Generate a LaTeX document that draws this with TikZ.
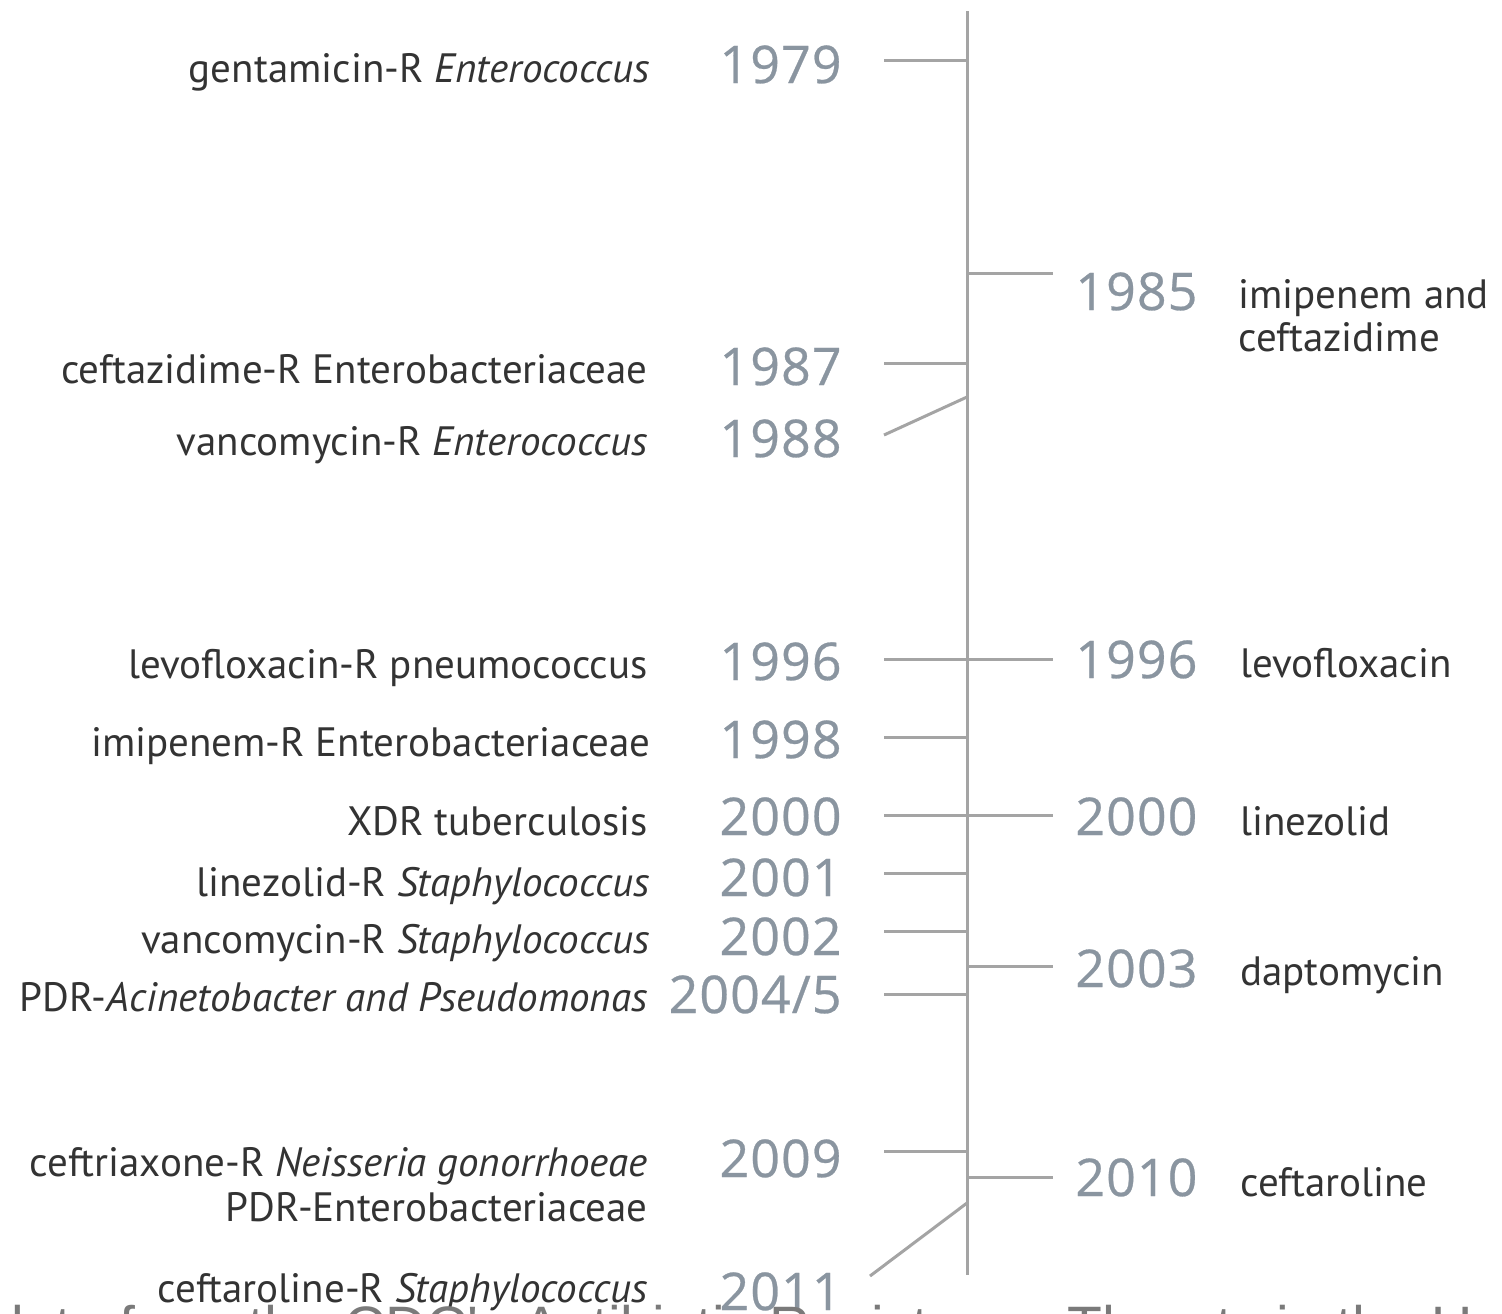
\documentclass[tikz,border=0pt]{standalone}
\usepackage{fontspec}
\newfontfamily\labfont{PT Sans}
\newfontfamily\yrfont[FakeBold=0.5,LetterSpace=2]{Open Sans}
\newfontfamily\capfont{Liberation Sans}
\definecolor{yrcol}{HTML}{8A95A0}
\definecolor{labcol}{HTML}{333333}
\definecolor{lncol}{HTML}{A4A4A4}
\definecolor{capcol}{HTML}{7A7A7A}
\begin{document}
\begin{tikzpicture}[x=0.5pt,y=-0.5pt,
  year/.style={font=\yrfont\fontsize{26}{30}\selectfont, text=yrcol, inner sep=0pt},
  lbl/.style={font=\labfont\fontsize{20.5}{21.5}\selectfont, text=labcol, inner sep=0pt},
  tickline/.style={draw=lncol, line width=1.5pt}]
\useasboundingbox (0,0) rectangle (1502,1313);
\fill[white] (0,0) rectangle (1502,1313);

% axis
\coordinate (top) at (967,11);
\coordinate (bot) at (967,1275);
\draw[tickline] (top) -- (bot);

% ---------- left side ----------
\node[year, anchor=base east] (y1979) at (842,83) {1979};
\node[lbl, anchor=base east] (l1979) at (650,82) {gentamicin-R \textit{Enterococcus}};
\coordinate (e1979) at (884,60); \coordinate (a1979) at (967,60);
\draw[tickline] (e1979) -- (a1979);

\node[year, anchor=base east] (y1987) at (842,385) {1987};
\node[lbl, anchor=base east] (l1987) at (648,383) {ceftazidime-R Enterobacteriaceae};
\coordinate (e1987) at (884,363); \coordinate (a1987) at (967,363);
\draw[tickline] (e1987) -- (a1987);

\node[year, anchor=base east] (y1988) at (842,457) {1988};
\node[lbl, anchor=base east] (l1988) at (648,455) {vancomycin-R \textit{Enterococcus}};
\coordinate (e1988) at (884,435); \coordinate (a1988) at (967,397);
\draw[tickline] (e1988) -- (a1988);

\node[year, anchor=base east] (y1996l) at (842,680) {1996};
\node[lbl, anchor=base east] (l1996l) at (648,678) {levofloxacin-R pneumococcus};
\coordinate (e1996l) at (884,659); \coordinate (a1996) at (967,659);
\draw[tickline] (e1996l) -- (a1996);

\node[year, anchor=base east] (y1998) at (842,758) {1998};
\node[lbl, anchor=base east] (l1998) at (651,756) {imipenem-R Enterobacteriaceae};
\coordinate (e1998) at (884,737); \coordinate (a1998) at (967,737);
\draw[tickline] (e1998) -- (a1998);

\node[year, anchor=base east] (y2000l) at (842,835) {2000};
\node[lbl, anchor=base east] (l2000l) at (648,835) {XDR tuberculosis};
\coordinate (e2000l) at (884,815); \coordinate (a2000) at (967,815);
\draw[tickline] (e2000l) -- (a2000);

\node[year, anchor=base east] (y2001) at (842,896) {2001};
\node[lbl, anchor=base east] (l2001) at (650,896) {linezolid-R \textit{Staphylococcus}};
\coordinate (e2001) at (884,873); \coordinate (a2001) at (967,873);
\draw[tickline] (e2001) -- (a2001);

\node[year, anchor=base east] (y2002) at (842,955) {2002};
\node[lbl, anchor=base east] (l2002) at (650,953) {vancomycin-R \textit{Staphylococcus}};
\coordinate (e2002) at (884,931); \coordinate (a2002) at (967,931);
\draw[tickline] (e2002) -- (a2002);

\node[year, anchor=base east] (y2004) at (842,1013) {2004/5};
\node[lbl, anchor=base east] (l2004) at (648,1011) {PDR-\textit{Acinetobacter and Pseudomonas}};
\coordinate (e2004) at (884,994); \coordinate (a2004) at (967,994);
\draw[tickline] (e2004) -- (a2004);

\node[year, anchor=base east] (y2009) at (842,1177) {2009};
\node[lbl, anchor=north east, align=right] (l2009) at (648,1147) {ceftriaxone-R \textit{Neisseria gonorrhoeae}\\[1pt]PDR-Enterobacteriaceae};
\coordinate (e2009) at (884,1151); \coordinate (a2009) at (967,1151);
\draw[tickline] (e2009) -- (a2009);

\node[year, anchor=base east] (y2011) at (842,1310) {2011};
\node[lbl, anchor=base east] (l2011) at (648,1302) {ceftaroline-R \textit{Staphylococcus}};
\coordinate (e2011) at (870,1276); \coordinate (a2011) at (967,1203);
\draw[tickline] (e2011) -- (a2011);

% ---------- right side ----------
\node[year, anchor=base west] (y1985) at (1075,310) {1985};
\node[lbl, anchor=north west, align=left] (l1985) at (1238,279) {imipenem and\\ceftazidime};
\coordinate (a1985) at (967,273); \coordinate (e1985) at (1053,273);
\draw[tickline] (a1985) -- (e1985);

\node[year, anchor=base west] (y1996r) at (1075,678) {1996};
\node[lbl, anchor=base west] (l1996r) at (1240,677) {levofloxacin};
\coordinate (e1996r) at (1053,659);
\draw[tickline] (a1996) -- (e1996r);

\node[year, anchor=base west] (y2000r) at (1075,835) {2000};
\node[lbl, anchor=base west] (l2000r) at (1240,835) {linezolid};
\coordinate (e2000r) at (1053,815);
\draw[tickline] (a2000) -- (e2000r);

\node[year, anchor=base west] (y2003) at (1075,987) {2003};
\node[lbl, anchor=base west] (l2003) at (1240,985) {daptomycin};
\coordinate (a2003) at (967,966); \coordinate (e2003) at (1053,966);
\draw[tickline] (a2003) -- (e2003);

\node[year, anchor=base west] (y2010) at (1075,1196) {2010};
\node[lbl, anchor=base west] (l2010) at (1240,1196) {ceftaroline};
\coordinate (a2010) at (967,1177); \coordinate (e2010) at (1053,1177);
\draw[tickline] (a2010) -- (e2010);

% ---------- cut-off caption ----------
\node[font=\capfont\fontsize{28.5}{32}\selectfont, text=capcol, inner sep=0pt, anchor=base west] (caption) at (-8,1346) {data from the CDC's Antibiotic Resistance Threats in the United States};
\end{tikzpicture}
\end{document}
